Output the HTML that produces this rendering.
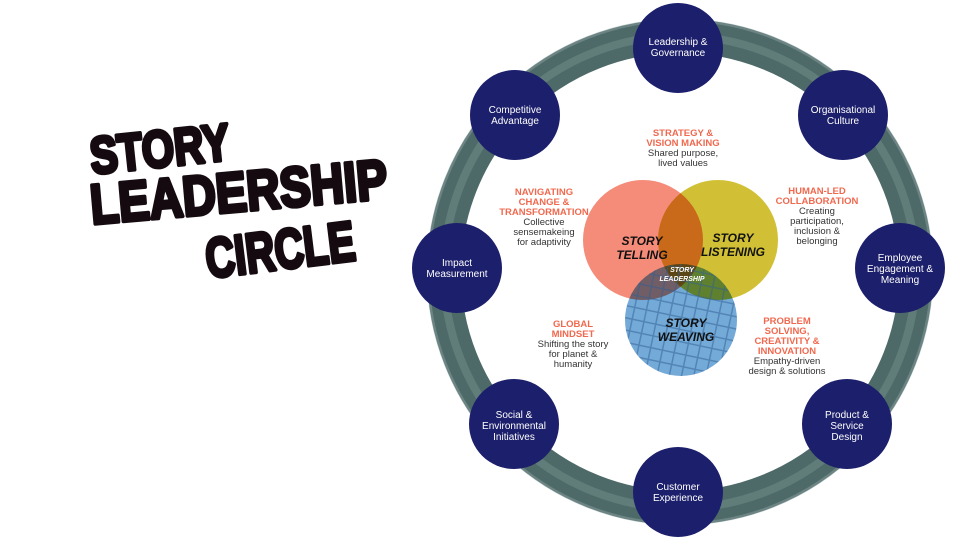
<!DOCTYPE html>
<html><head><style>
body{margin:0;width:960px;height:540px;background:#fff;overflow:hidden;font-family:"Liberation Sans",sans-serif}
</style></head><body>
<svg width="960" height="540" viewBox="0 0 960 540" xmlns="http://www.w3.org/2000/svg">
<defs>
<pattern id="grid" width="12" height="12" patternUnits="userSpaceOnUse" patternTransform="rotate(12)">
<path d="M0 0H12M0 0V12" stroke="#2f5f95" stroke-width="3" opacity=".5"/>
</pattern>
</defs>
<!-- title -->
<g font-family="Liberation Sans" font-weight="bold" fill="#140a10" stroke="#140a10" stroke-width="4" stroke-linejoin="round">
<text x="92" y="174" font-size="52" transform="rotate(-6 92 174)" textLength="140" lengthAdjust="spacingAndGlyphs">STORY</text>
<text x="92" y="224" font-size="56" transform="rotate(-5 92 224)" textLength="298" lengthAdjust="spacingAndGlyphs">LEADERSHIP</text>
<text x="208" y="278" font-size="56" transform="rotate(-7 208 278)" textLength="150" lengthAdjust="spacingAndGlyphs">CIRCLE</text>
</g>
<!-- ring -->
<circle cx="680" cy="272" r="236" fill="none" stroke="#4d6a69" stroke-width="34"/>
<circle cx="680" cy="272" r="236" fill="none" stroke="#86a09c" stroke-width="8" opacity=".35"/>
<circle cx="680" cy="272" r="252" fill="none" stroke="#9bb0ad" stroke-width="3" opacity=".4"/>
<!-- venn -->
<g style="mix-blend-mode:multiply">
<circle cx="643" cy="240" r="60" fill="#f4806a" opacity=".9"/>
</g>
<circle cx="718" cy="240" r="60" fill="#c9b512" opacity=".85" style="mix-blend-mode:multiply"/>
<circle cx="681" cy="320" r="56" fill="#5b9bd0" opacity=".85" style="mix-blend-mode:multiply"/>
<circle cx="681" cy="320" r="56" fill="url(#grid)"/>
<g font-family="Liberation Sans" font-weight="bold" font-style="italic" fill="#111" text-anchor="middle">
<text x="642" y="245" font-size="12">STORY</text><text x="642" y="259" font-size="12">TELLING</text>
<text x="733" y="242" font-size="12">STORY</text><text x="733" y="256" font-size="12">LISTENING</text>
<text x="686" y="327" font-size="12">STORY</text><text x="686" y="341" font-size="12">WEAVING</text>
<text x="682" y="272" font-size="7" fill="#fff">STORY</text><text x="682" y="281" font-size="7" fill="#fff">LEADERSHIP</text>
</g>
<!-- labels -->
<g font-family="Liberation Sans" font-size="9.5" text-anchor="middle">
<g font-weight="bold" fill="#f0694f">
<text x="683" y="136">STRATEGY &amp;</text><text x="683" y="146">VISION MAKING</text>
<text x="544" y="195">NAVIGATING</text><text x="544" y="205">CHANGE &amp;</text><text x="544" y="215">TRANSFORMATION</text>
<text x="817" y="194">HUMAN-LED</text><text x="817" y="204">COLLABORATION</text>
<text x="573" y="327">GLOBAL</text><text x="573" y="337">MINDSET</text>
<text x="787" y="324">PROBLEM</text><text x="787" y="334">SOLVING,</text><text x="787" y="344">CREATIVITY &amp;</text><text x="787" y="354">INNOVATION</text>
</g>
<g fill="#333">
<text x="683" y="156">Shared purpose,</text><text x="683" y="166">lived values</text>
<text x="544" y="225">Collective</text><text x="544" y="235">sensemakeing</text><text x="544" y="245">for adaptivity</text>
<text x="817" y="214">Creating</text><text x="817" y="224">participation,</text><text x="817" y="234">inclusion &amp;</text><text x="817" y="244">belonging</text>
<text x="573" y="347">Shifting the story</text><text x="573" y="357">for planet &amp;</text><text x="573" y="367">humanity</text>
<text x="787" y="364">Empathy-driven</text><text x="787" y="374">design &amp; solutions</text>
</g>
</g>
<!-- nodes -->
<g fill="#1c1f6b">
<circle cx="678" cy="48" r="45"/><circle cx="843" cy="115" r="45"/><circle cx="900" cy="268" r="45"/><circle cx="847" cy="424" r="45"/>
<circle cx="678" cy="492" r="45"/><circle cx="514" cy="424" r="45"/><circle cx="457" cy="268" r="45"/><circle cx="515" cy="115" r="45"/>
</g>
<g font-family="Liberation Sans" font-size="10" fill="#fff" text-anchor="middle">
<text x="678" y="45">Leadership &amp;</text><text x="678" y="56">Governance</text>
<text x="843" y="113">Organisational</text><text x="843" y="124">Culture</text>
<text x="900" y="261">Employee</text><text x="900" y="272">Engagement &amp;</text><text x="900" y="283">Meaning</text>
<text x="847" y="418">Product &amp;</text><text x="847" y="429">Service</text><text x="847" y="440">Design</text>
<text x="678" y="490">Customer</text><text x="678" y="501">Experience</text>
<text x="514" y="418">Social &amp;</text><text x="514" y="429">Environmental</text><text x="514" y="440">Initiatives</text>
<text x="457" y="266">Impact</text><text x="457" y="277">Measurement</text>
<text x="515" y="113">Competitive</text><text x="515" y="124">Advantage</text>
</g>
</svg>
</body></html>
